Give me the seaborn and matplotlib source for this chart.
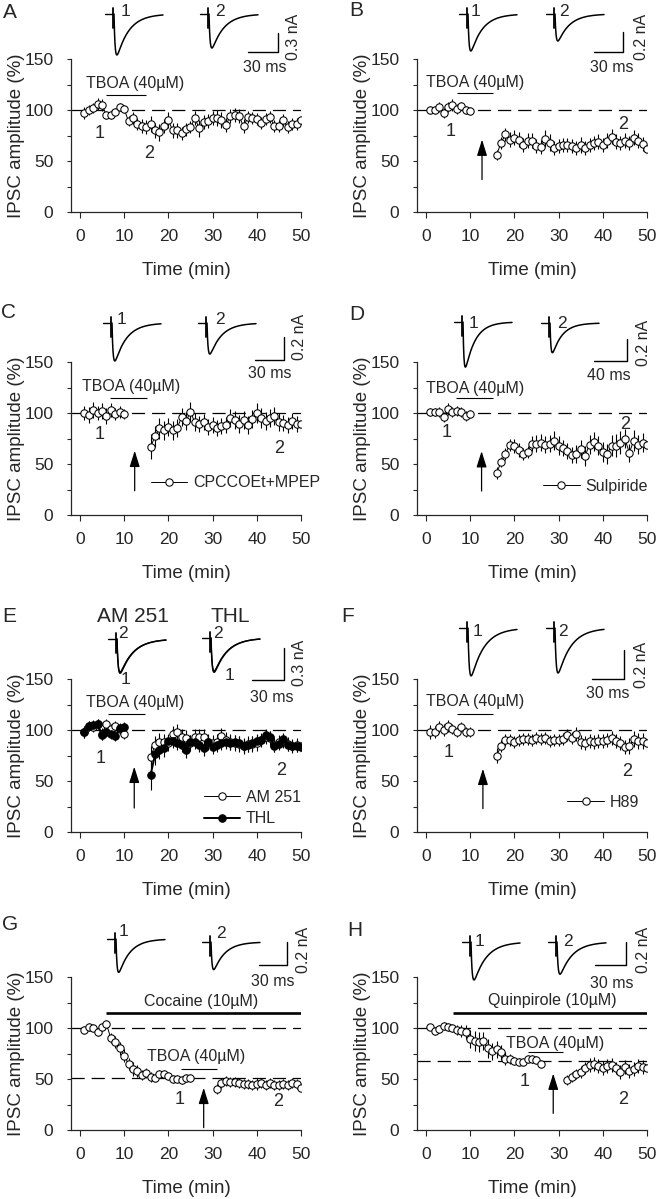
import matplotlib
matplotlib.use("Agg")
import matplotlib.pyplot as plt
import numpy as np
import seaborn as sns

# ── Data (IPSC amplitude, % of baseline) ──────────────────────────────

# sampling grid: one point per minute, with a pause while TBOA is washed in
T_ALL = list(range(1, 51))
T_PRE = list(range(1, 11))
T_POST = list(range(16, 51))

A_AMP = [97, 100, 102, 106, 105, 95, 95, 98, 103, 101,
         89, 92, 86, 84, 83, 86, 80, 78, 84, 90,
         80, 80, 77, 81, 83, 92, 82, 88, 89, 92,
         92, 90, 85, 94, 95, 94, 84, 93, 92, 91,
         87, 91, 93, 84, 84, 90, 83, 86, 86, 90]
A_ERR = [6, 5, 5, 6, 6, 4, 4, 4, 4, 4,
         5, 6, 6, 7, 7, 8, 7, 8, 7, 8,
         7, 7, 6, 6, 6, 7, 8, 7, 7, 7,
         8, 8, 7, 7, 7, 7, 7, 6, 6, 6,
         6, 6, 6, 6, 6, 6, 6, 6, 6, 6]

B_PRE = [100, 100, 103, 97, 103, 105, 101, 104, 100, 99]
B_PRE_ERR = [4, 4, 5, 5, 5, 6, 5, 4, 4, 4]
B_POST = [56, 68, 76, 71, 73, 71, 66, 70, 70, 65,
          64, 72, 68, 63, 65, 66, 66, 65, 63, 66,
          63, 66, 68, 69, 66, 70, 74, 69, 68, 70,
          68, 73, 70, 67, 62]
B_POST_ERR = [5, 6, 6, 7, 7, 7, 7, 7, 7, 7,
              7, 8, 8, 7, 7, 7, 7, 7, 7, 8,
              7, 7, 7, 7, 7, 7, 7, 7, 7, 7,
              7, 7, 7, 7, 7]

C_PRE = [100, 98, 103, 100, 102, 97, 103, 99, 101, 99]
C_PRE_ERR = [7, 8, 8, 7, 8, 8, 7, 6, 6, 5]
C_POST = [67, 77, 85, 83, 86, 83, 85, 96, 92, 101,
          91, 89, 91, 86, 88, 85, 87, 88, 95, 93,
          89, 93, 88, 94, 100, 95, 92, 95, 97, 91,
          90, 88, 92, 89, 89]
C_POST_ERR = [12, 10, 10, 9, 9, 9, 9, 9, 9, 10,
              9, 8, 8, 8, 8, 8, 8, 8, 9, 9,
              9, 9, 9, 9, 10, 10, 9, 9, 9, 9,
              8, 8, 8, 8, 8]

D_PRE = [101, 101, 101, 96, 104, 101, 102, 101, 97, 99]
D_PRE_ERR = [4, 4, 5, 5, 6, 5, 5, 5, 5, 4]
D_POST = [41, 52, 60, 69, 68, 64, 60, 62, 70, 70,
          71, 69, 70, 73, 68, 66, 63, 59, 60, 65,
          58, 69, 72, 68, 62, 60, 68, 68, 71, 75,
          61, 73, 69, 71, 69]
D_POST_ERR = [6, 5, 6, 6, 7, 7, 6, 6, 7, 8,
              8, 8, 8, 9, 9, 8, 8, 8, 9, 9,
              10, 9, 9, 9, 10, 10, 10, 11, 11, 9,
              9, 10, 9, 9, 9]

E_AM_PRE = [98, 104, 103, 106, 96, 106, 101, 104, 101, 96]
E_AM_PRE_ERR = [6, 5, 5, 5, 6, 5, 5, 5, 5, 5]
E_THL_PRE = [98, 104, 105, 106, 95, 98, 96, 94, 102, 103]
E_THL_PRE_ERR = [6, 5, 5, 5, 5, 5, 5, 5, 5, 5]
E_AM_POST = [74, 85, 88, 88, 87, 96, 98, 93, 92, 87,
             93, 93, 93, 88, 87, 88, 94, 90, 88, 87,
             86, 84, 86, 86, 87, 90, 93, 92, 85, 88,
             89, 86, 84, 85, 84]
E_AM_POST_ERR = [10, 9, 9, 8, 8, 8, 8, 8, 8, 8,
                 8, 8, 8, 8, 8, 8, 8, 8, 8, 8,
                 8, 8, 8, 8, 8, 7, 7, 7, 7, 7,
                 7, 7, 7, 7, 7]
E_THL_POST = [56, 76, 80, 82, 89, 89, 87, 85, 80, 88,
              88, 85, 82, 88, 83, 85, 87, 88, 87, 88,
              87, 84, 85, 87, 89, 90, 95, 93, 84, 86,
              91, 85, 84, 84, 83]
E_THL_POST_ERR = [15, 10, 8, 8, 7, 7, 7, 7, 7, 7,
                  7, 7, 7, 7, 7, 7, 7, 7, 7, 7,
                  7, 7, 7, 7, 7, 6, 6, 6, 6, 6,
                  6, 6, 6, 6, 6]

F_PRE = [98, 98, 103, 100, 104, 101, 98, 103, 98, 98]
F_PRE_ERR = [7, 6, 6, 6, 6, 5, 5, 5, 5, 5]
F_POST = [75, 84, 90, 90, 88, 90, 91, 91, 90, 92,
          91, 92, 89, 90, 90, 91, 95, 92, 96, 88,
          87, 89, 88, 89, 89, 90, 92, 89, 87, 83,
          84, 91, 89, 89, 87]
F_POST_ERR = [7, 6, 6, 6, 6, 6, 6, 6, 6, 6,
              6, 6, 6, 6, 6, 6, 6, 6, 7, 7,
              7, 7, 7, 7, 7, 7, 7, 7, 7, 7,
              8, 8, 8, 8, 8]

G_T_PRE = list(range(1, 26))
G_T_POST = list(range(31, 51))
G_PRE = [98, 101, 100, 96, 101, 104, 90, 86, 80, 73,
         65, 60, 58, 54, 56, 52, 51, 55, 55, 53,
         50, 50, 49, 51, 51]
G_PRE_ERR = [4, 4, 4, 4, 4, 4, 5, 6, 6, 6,
             6, 7, 6, 5, 5, 5, 4, 4, 4, 4,
             4, 4, 4, 4, 4]
G_POST = [40, 46, 48, 47, 47, 46, 45, 45, 44, 45,
          46, 44, 46, 44, 44, 45, 44, 46, 45, 41]
G_POST_ERR = [5, 5, 5, 5, 5, 5, 5, 5, 5, 6,
              5, 5, 5, 5, 5, 5, 5, 5, 5, 4]

H_T_PRE = list(range(1, 27))
H_T_POST = list(range(32, 51))
H_PRE = [101, 97, 99, 102, 101, 100, 98, 97, 96, 89,
         87, 86, 87, 80, 77, 79, 76, 70, 70, 68,
         67, 67, 70, 70, 69, 65]
H_PRE_ERR = [3, 4, 4, 4, 4, 4, 5, 6, 7, 9,
             10, 10, 9, 9, 8, 8, 7, 6, 5, 4,
             4, 4, 4, 4, 4, 4]
H_POST = [49, 52, 55, 57, 61, 64, 65, 63, 61, 63,
          64, 61, 57, 62, 58, 60, 63, 62, 61]
H_POST_ERR = [5, 5, 5, 6, 6, 7, 7, 7, 7, 7,
              7, 6, 7, 7, 7, 7, 7, 7, 7]

# example IPSC traces: peak amplitudes (nA) of trace 1 and trace 2
TRACE_AMP = {"A": [0.65, 0.54], "B": [0.37, 0.27], "C": [0.33, 0.27],
             "D": [0.41, 0.27], "E": [0.32, 0.32], "F": [0.33, 0.31],
             "G": [0.29, 0.24], "H": [0.33, 0.28]}
# scale bars (ms, nA)
SCALE_MS = {"A": 30, "B": 30, "C": 30, "D": 40, "E": 30, "F": 30, "G": 30, "H": 30}
SCALE_NA = {"A": 0.3, "B": 0.2, "C": 0.2, "D": 0.2, "E": 0.3, "F": 0.2, "G": 0.2, "H": 0.2}

# ── Layout (figure pixels) ─────────────────────────────

W, H = 658, 1199
COL_L = [71, 417]
AX_W, AX_H = 230, 153
ROW_T = [59, 362, 679, 977]

# trace calibration: px per ms, px per nA
CAL = {"A": (1.0, 63), "B": (0.97, 100), "C": (0.97, 115), "D": (0.825, 110),
       "E": (1.07, 107), "F": (1.07, 145), "G": (0.93, 115), "H": (1.03, 115)}
# trace start (x, baseline y), label position
TRACE_POS = {
    "A": [((105, 14), (125, 12)), ((200, 14), (220, 12))],
    "B": [((459, 14), (476, 12)), ((546, 14), (564, 12))],
    "C": [((103, 323), (122, 320)), ((198, 323), (220, 320))],
    "D": [((454, 322), (473, 324)), ((541, 323), (562, 324))],
    "E": [((108, 639), None), ((202, 638), None)],
    "F": [((459, 628), (477, 631)), ((546, 628), (563, 631))],
    "G": [((107, 939), (124, 932)), ((202, 942), (221, 934))],
    "H": [((462, 942), (479, 941)), ((548, 942), (568, 941))],
}
# scale bar corner, ms label centre, nA label centre
SCALE_POS = {
    "A": ((278, 52), (265, 68), (293, 37)),
    "B": ((623, 52), (612, 67), (642, 37)),
    "C": ((284, 360), (270, 374), (300, 337)),
    "D": ((627, 361), (609, 376), (644, 343)),
    "E": ((284, 680), (272, 697), (300, 663)),
    "F": ((624, 679), (608, 694), (642, 665)),
    "G": ((287, 965), (273, 982), (304, 950)),
    "H": ((626, 965), (612, 983), (644, 950)),
}
LETTER_POS = {"A": (10, 12), "B": (356, 10), "C": (8, 313), "D": (357, 315),
              "E": (9, 617), "F": (348, 617), "G": (10, 925), "H": (355, 930)}

sns.set_style("ticks")
plt.rcParams["font.family"] = ["Liberation Sans", "DejaVu Sans"]
plt.rcParams["lines.scale_dashes"] = False

OPEN = dict(marker="o", markersize=5.3, markerfacecolor="white",
            markeredgecolor="black", markeredgewidth=0.75, lw=0.7)
FILLED = dict(marker="o", markersize=5.4, markerfacecolor="black",
              markeredgecolor="black", markeredgewidth=0.75, lw=1.4)


def ipsc_shape(t_ms, tau_rise=1.1, tau_decay=12.0):
    f = np.exp(-t_ms / tau_decay) - np.exp(-t_ms / tau_rise)
    return f / f.max()


def plot_series(ax, t, y, err, style, label=None):
    ax.errorbar(t, y, yerr=err, fmt="none", ecolor="black",
                elinewidth=0.8, capsize=0, zorder=2)
    sns.lineplot(x=t, y=y, ax=ax, color="black", errorbar=None,
                 zorder=3, label=label, legend=False, **style)
    return ax.lines[-1]


def panel(key, col, row, series, dashes=(100,), bars=(), marks=(),
          arrow=None, legend_at=None):
    l, t = COL_L[col], ROW_T[row]
    ax = fig.add_axes([l / W, 1 - (t + AX_H) / H, AX_W / W, AX_H / H])
    handles = []
    for s in series:
        h = plot_series(ax, *s)
        if s[-1] is not None:
            handles.append(h)
    for yd in dashes:
        ax.axhline(yd, color="black", lw=0.9, dashes=(9.5, 5), zorder=1)
    for text, x0, x1, yb, lw, xt, yt in bars:
        ax.hlines(yb, x0, x1, color="black", lw=lw)
        ax.text(xt, yt, text, ha="center", va="center", fontsize=11.5)
    for text, xm, ym in marks:
        ax.text(xm, ym, text, ha="center", va="center", fontsize=13)
    if arrow is not None:
        xa, y0, y1 = arrow
        ax.annotate("", xy=(xa, y1), xytext=(xa, y0),
                    arrowprops=dict(arrowstyle="-|>,head_length=0.7,head_width=0.22",
                                    mutation_scale=14, lw=0.9, color="black",
                                    shrinkA=0, shrinkB=0))
    if handles:
        ax.legend(handles=handles, loc="center left", bbox_to_anchor=legend_at,
                  frameon=False, fontsize=11.5, handlelength=2.3, handletextpad=0.35,
                  borderpad=0, borderaxespad=0, labelspacing=0.4)
    ax.set_xlim(-2, 50)
    ax.set_ylim(0, 150)
    ax.set_xticks(range(0, 51, 10))
    ax.set_yticks([0, 50, 100, 150])
    ax.set_yticks([25, 75, 125], minor=True)
    ax.tick_params(axis="x", direction="out", length=4, width=0.8, pad=8.5, labelsize=12.5)
    ax.tick_params(axis="y", which="both", direction="out", length=2.7, width=0.8,
                   pad=10, labelsize=12.5)
    ax.set_xlabel("Time (min)", fontsize=13.5)
    ax.set_ylabel("IPSC amplitude (%)", fontsize=13.5)
    ax.xaxis.set_label_coords(0.5, -0.33)
    ax.yaxis.set_label_coords(-0.2, 0.5)
    for side in ("top", "right"):
        ax.spines[side].set_visible(False)
    for side in ("left", "bottom"):
        ax.spines[side].set_linewidth(0.9)
    return ax


def draw_traces(ov, key):
    px_ms, px_na = CAL[key]
    t = np.linspace(0, 49 / px_ms, 300)
    for amp, ((x0, y0), lab) in zip(TRACE_AMP[key], TRACE_POS[key]):
        xs = x0 + 8
        ov.plot([x0, xs], [y0, y0], color="black", lw=1.0)
        ov.plot([xs, xs], [y0 - 6, y0 + 14], color="black", lw=1.3)
        ov.plot(xs + 1 + t * px_ms, y0 + amp * px_na * ipsc_shape(t),
                color="black", lw=1.1)
        if key == "E":
            ov.plot(xs + 1 + t * px_ms, y0 + 0.96 * amp * px_na * ipsc_shape(t),
                    color="black", lw=0.9)
        if lab is not None:
            ov.text(*lab, "1" if lab == TRACE_POS[key][0][1] else "2",
                    ha="center", va="center", fontsize=12.5)
    (cx, cy), ms_xy, na_xy = SCALE_POS[key]
    ms, na = SCALE_MS[key], SCALE_NA[key]
    ov.plot([cx - ms * px_ms, cx, cx], [cy, cy, cy - na * px_na],
            color="black", lw=1.0)
    ov.text(*ms_xy, f"{ms} ms", ha="center", va="center", fontsize=11.5)
    ov.text(*na_xy, f"{na} nA", ha="center", va="center", fontsize=11.5, rotation=90)


fig = plt.figure(figsize=(W / 100, H / 100), dpi=100)
fig.patch.set_facecolor("white")

TBOA = "TBOA (40\u00b5M)"
panel("A", 0, 0, [(T_ALL, A_AMP, A_ERR, OPEN, None)],
      bars=[(TBOA, 6, 15, 115, 0.8, 12.4, 126)],
      marks=[("1", 4.4, 77), ("2", 15.7, 57)])
panel("B", 1, 0, [(T_PRE, B_PRE, B_PRE_ERR, OPEN, None),
                  (T_POST, B_POST, B_POST_ERR, OPEN, None)],
      bars=[(TBOA, 7, 15.2, 116.6, 0.8, 11.2, 126.8)],
      marks=[("1", 5.6, 79), ("2", 44.6, 86)], arrow=(12.7, 31.8, 71))
panel("C", 0, 1, [(T_PRE, C_PRE, C_PRE_ERR, OPEN, "CPCCOEt+MPEP"),
                  (T_POST, C_POST, C_POST_ERR, OPEN, None)],
      bars=[(TBOA, 6.8, 15.1, 114.9, 0.8, 11.7, 125.6)],
      marks=[("1", 4.5, 79), ("2", 45, 65)], arrow=(12.4, 23.8, 63),
      legend_at=(18 / 52, 31.6 / 150))
panel("D", 1, 1, [(T_PRE, D_PRE, D_PRE_ERR, OPEN, "Sulpiride"),
                  (T_POST, D_POST, D_POST_ERR, OPEN, None)],
      bars=[(TBOA, 6.9, 15.2, 114.8, 0.8, 11.1, 124.5)],
      marks=[("1", 4.7, 80.5), ("2", 45, 88.7)], arrow=(12.6, 23.5, 62.6),
      legend_at=(28.5 / 52, 28.4 / 150))
panel("E", 0, 2, [(T_PRE, E_AM_PRE, E_AM_PRE_ERR, OPEN, "AM 251"),
                  (T_POST, E_AM_POST, E_AM_POST_ERR, OPEN, None),
                  (T_PRE, E_THL_PRE, E_THL_PRE_ERR, FILLED, "THL"),
                  (T_POST, E_THL_POST, E_THL_POST_ERR, FILLED, None)],
      bars=[(TBOA, 6.4, 14.8, 115.7, 0.8, 12.5, 126.5)],
      marks=[("1", 4.8, 72.5), ("2", 45.5, 60.5)], arrow=(12.3, 23.5, 64),
      legend_at=(30 / 52, 23.5 / 150))
panel("F", 1, 2, [(T_PRE, F_PRE, F_PRE_ERR, OPEN, "H89"),
                  (T_POST, F_POST, F_POST_ERR, OPEN, None)],
      bars=[(TBOA, 7.1, 15.2, 115.4, 0.8, 11.2, 127.5)],
      marks=[("1", 5.2, 77.5), ("2", 45.5, 59.8)], arrow=(12.9, 22.9, 62),
      legend_at=(34 / 52, 29.4 / 150))
panel("G", 0, 3, [(G_T_PRE, G_PRE, G_PRE_ERR, OPEN, None),
                  (G_T_POST, G_POST, G_POST_ERR, OPEN, None)],
      dashes=(100, 51),
      bars=[("Cocaine (10\u00b5M)", 6, 50, 114.8, 1.9, 27.5, 126),
            (TBOA, 22.8, 31, 60, 0.8, 26.4, 72.4)],
      marks=[("1", 22.6, 30), ("2", 44.9, 27.7)], arrow=(28, 2.3, 41.4))
panel("H", 1, 3, [(H_T_PRE, H_PRE, H_PRE_ERR, OPEN, None),
                  (H_T_POST, H_POST, H_POST_ERR, OPEN, None)],
      dashes=(100, 68),
      bars=[("Quinpirole (10\u00b5M)", 6.1, 50, 114.9, 1.9, 28.5, 127),
            (TBOA, 23, 31, 76, 0.8, 29.2, 85)],
      marks=[("1", 22.4, 48), ("2", 44.6, 29.6)], arrow=(28.8, 16.3, 55.3))

# overlay in figure pixels for example traces, scale bars and panel letters
ov = fig.add_axes([0, 0, 1, 1], facecolor="none")
ov.set_xlim(0, W)
ov.set_ylim(H, 0)
ov.axis("off")
for key in "ABCDEFGH":
    draw_traces(ov, key)
    ov.text(*LETTER_POS[key], key, ha="center", va="center", fontsize=15)
# panel E: drug labels and trace numbers
ov.text(133, 617, "AM 251", ha="center", va="center", fontsize=15)
ov.text(230, 617, "THL", ha="center", va="center", fontsize=15)
for txt, xy in [("2", (123, 634)), ("1", (126, 680)), ("2", (218, 634)), ("1", (230, 675))]:
    ov.text(*xy, txt, ha="center", va="center", fontsize=12.5)

fig.savefig("out.png", dpi=100)
